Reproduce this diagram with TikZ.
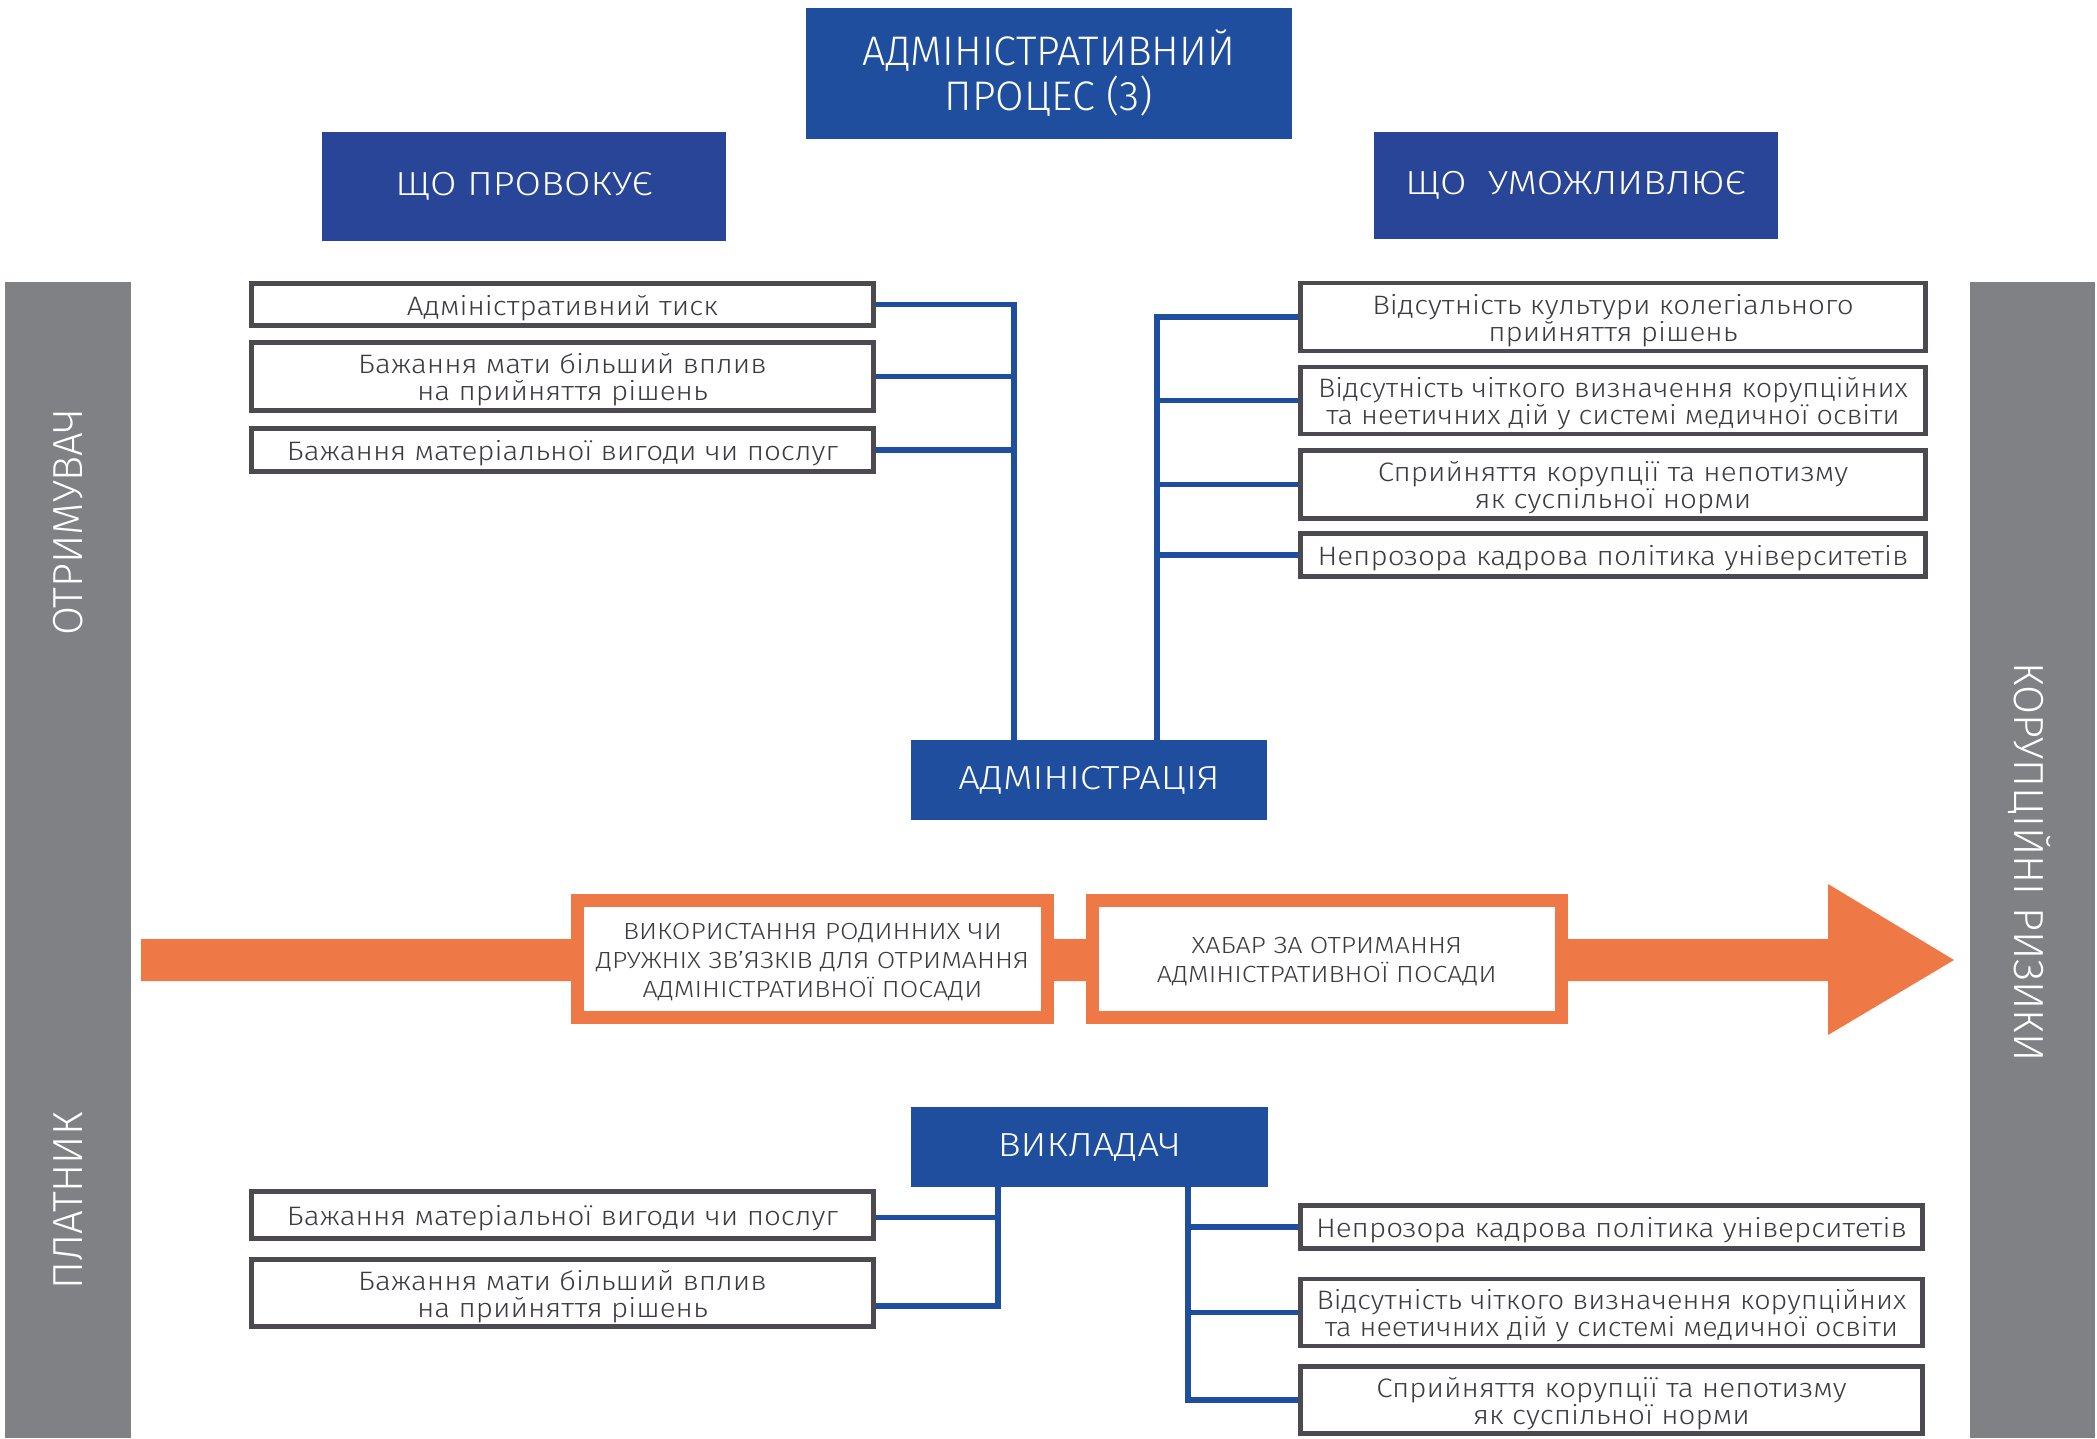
\documentclass[tikz,border=0pt]{standalone}
\usepackage{fontspec}
\setmainfont{Fira Sans}[UprightFont=* Light]
\newfontfamily\widefont{Fira Sans}[UprightFont=* Light, FakeStretch=1.15]
\newfontfamily\itemfont{Fira Sans}[UprightFont=* Light, FakeStretch=1.11]
\newfontfamily\tightfont{Fira Sans}[UprightFont=* Light, FakeStretch=1.08]
\usetikzlibrary{calc}

\definecolor{hdrblue}{RGB}{31,78,159}
\definecolor{hdrblueB}{RGB}{40,69,151}
\definecolor{linkblue}{RGB}{31,78,159}
\definecolor{framegray}{RGB}{77,73,80}
\definecolor{txtgray}{RGB}{62,59,64}
\definecolor{sidegray}{RGB}{128,129,132}
\definecolor{flow}{RGB}{238,121,70}

% invisible struts (measured from the last baseline) that centre the text block
\newcommand{\onestrut}{\rule[-5.5pt]{0pt}{26.8pt}}
\newcommand{\twostrut}{\rule[-5.5pt]{0pt}{47pt}}
\newcommand{\flowtwostrut}{\rule[-4.5pt]{0pt}{44.55pt}}
\newcommand{\flowthreestrut}{\rule[-4.5pt]{0pt}{66.3pt}}

\tikzset{
  boxw/.style={minimum width=#1*0.75pt},
  boxh/.style={minimum height=#1*0.75pt},
  hdr/.style={fill=hdrblue, text=white, inner sep=0pt, align=center,
    font=\widefont\fontsize{25}{28}\selectfont},
  item/.style={draw=framegray, line width=3.6pt, fill=white, text=txtgray,
    inner sep=0pt, align=center, font=\itemfont\fontsize{20}{20.25}\selectfont,
    execute at begin node=\onestrut},
  pair/.style={item, execute at begin node=\twostrut},
  longpair/.style={pair, font=\tightfont\fontsize{20}{20.25}\selectfont},
  flowbox/.style={draw=flow, line width=9.75pt, fill=white, text=txtgray,
    inner sep=0pt, align=center, font=\widefont\fontsize{17.5}{21.75}\selectfont,
    execute at begin node=\flowtwostrut},
  flowtriple/.style={flowbox, execute at begin node=\flowthreestrut},
  sidelabel/.style={text=white, inner sep=0pt, font=\fontsize{31.5}{34}\selectfont},
  link/.style={draw=linkblue, line width=3.9pt},
}

\begin{document}
\begin{tikzpicture}[x=0.75pt, y=-0.75pt]
\useasboundingbox (0,0) rectangle (2097,1438);

% side bands
\fill[sidegray] (5,282) rectangle (131,1438);
\fill[sidegray] (1970,282) rectangle (2095,1438);
\node[sidelabel, rotate=90] (recv) at (68,522) {ОТРИМУВАЧ};
\node[sidelabel, rotate=90] (payer) at (68,1201) {ПЛАТНИК};
\node[sidelabel, rotate=-90] (risks) at (2030,862) {КОРУПЦІЙНІ РИЗИКИ};

% headers
\node[hdr, boxw=486, boxh=131, font=\fontsize{31}{33.75}\selectfont] (proc) at (1049,73.5)
  {АДМІНІСТРАТИВНИЙ\\ПРОЦЕС (3)};
\node[hdr, fill=hdrblueB, boxw=404, boxh=109] (provoke) at (524,186.5) {ЩО ПРОВОКУЄ};
\node[hdr, fill=hdrblueB, boxw=404, boxh=107] (enable) at (1575.5,185.5) {ЩО~~УМОЖЛИВЛЮЄ};
\node[hdr, boxw=356, boxh=80] (admin) at (1089,780) {АДМІНІСТРАЦІЯ};
\node[hdr, boxw=357, boxh=80] (teacher) at (1089.5,1147) {ВИКЛАДАЧ};

% main flow arrow
\fill[flow] (141,939) -- (1828,939) -- (1828,884) -- (1954,960)
  -- (1828,1035) -- (1828,981) -- (141,981) -- cycle;
\node[flowtriple, boxw=470, boxh=117] (kin) at (812.5,959)
  {ВИКОРИСТАННЯ РОДИННИХ ЧИ\\ДРУЖНІХ ЗВ’ЯЗКІВ ДЛЯ ОТРИМАННЯ\\АДМІНІСТРАТИВНОЇ ПОСАДИ};
\node[flowbox, boxw=468.5, boxh=117] (bribe) at (1326.75,959)
  {ХАБАР ЗА ОТРИМАННЯ\\АДМІНІСТРАТИВНОЇ ПОСАДИ};

% what provokes (administration)
\node[item, boxw=622, boxh=42] (L1) at (562.5,304.5) {Адміністративний тиск};
\node[pair, boxw=622, boxh=68] (L2) at (562.5,376.5) {Бажання мати більший вплив\\на прийняття рішень};
\node[item, boxw=622, boxh=43] (L3) at (562.5,450) {Бажання матеріальної вигоди чи послуг};

% what enables (administration)
\node[pair, boxw=625, boxh=68] (R1) at (1613,317) {Відсутність культури колегіального\\прийняття рішень};
\node[longpair, boxw=625, boxh=67] (R2) at (1613,400.5) {Відсутність чіткого визначення корупційних\\та неетичних дій у системі медичної освіти};
\node[pair, boxw=625, boxh=68] (R3) at (1613,484.5) {Сприйняття корупції та непотизму\\як суспільної норми};
\node[item, boxw=625, boxh=43] (R4) at (1613,555) {Непрозора кадрова політика університетів};

% what provokes (teacher)
\node[item, boxw=622, boxh=47] (LL1) at (562.5,1215) {Бажання матеріальної вигоди чи послуг};
\node[pair, boxw=622, boxh=67] (LL2) at (562.5,1293) {Бажання мати більший вплив\\на прийняття рішень};

% what enables (teacher)
\node[item, boxw=622, boxh=43] (LR1) at (1611.5,1227) {Непрозора кадрова політика університетів};
\node[longpair, boxw=622, boxh=67] (LR2) at (1611.5,1312.5) {Відсутність чіткого визначення корупційних\\та неетичних дій у системі медичної освіти};
\node[pair, boxw=622, boxh=67] (LR3) at (1611.5,1400) {Сприйняття корупції та непотизму\\як суспільної норми};

% junction points on the role boxes
\coordinate (jl) at ([xshift=-56.25pt]admin.north);
\coordinate (jr) at ([xshift=51pt]admin.north);
\coordinate (tl) at ([xshift=-68.6pt]teacher.south);
\coordinate (tr) at ([xshift=73.9pt]teacher.south);

% connectors
\draw[link] (L1.east) -| (jl);
\draw[link] (L2.east) -- (L2.east -| jl);
\draw[link] (L3.east) -- (L3.east -| jl);

\draw[link] (R1.west) -| (jr);
\draw[link] (R2.west) -- (R2.west -| jr);
\draw[link] (R3.west) -- (R3.west -| jr);
\draw[link] (R4.west) -- (R4.west -| jr);

\draw[link] (tl) |- ([yshift=-9.75pt]LL2.east);
\draw[link] ([yshift=-2pt]LL1.east) -- ([yshift=-2pt]LL1.east -| tl);

\draw[link] (tr) |- (LR3.west);
\draw[link] (LR1.west) -- (LR1.west -| tr);
\draw[link] (LR2.west) -- (LR2.west -| tr);
\end{tikzpicture}
\end{document}
